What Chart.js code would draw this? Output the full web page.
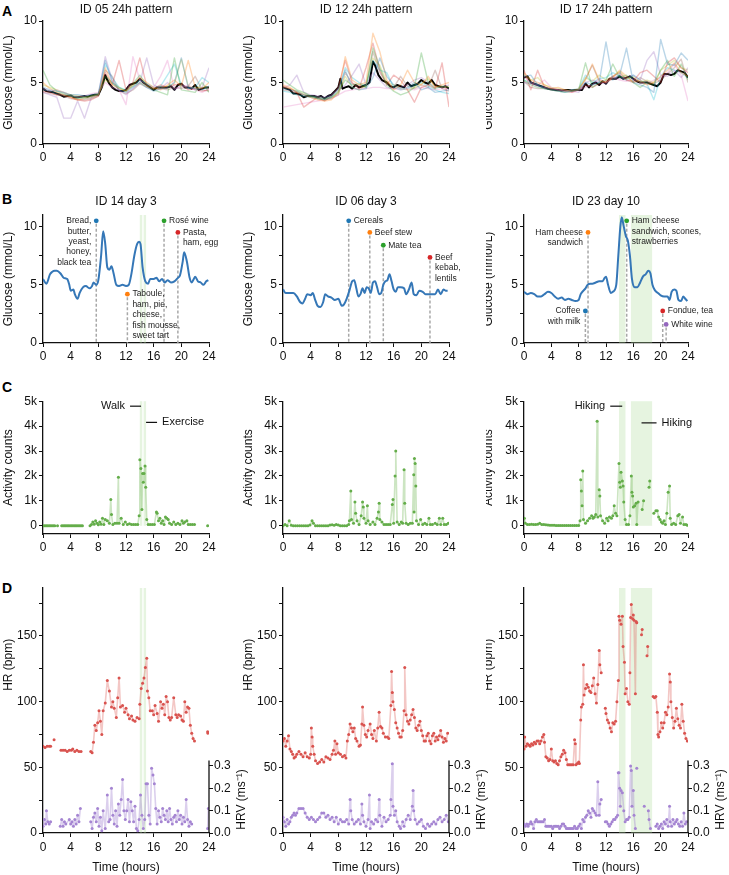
<!DOCTYPE html>
<html>
<head>
<meta charset="utf-8">
<script src="https://cdn.jsdelivr.net/npm/chart.js@4.4.1/dist/chart.umd.min.js"></script>
<style>
  body { margin: 0; background: #fff; }
  #fig { position: relative; width: 729px; height: 875px; overflow: hidden; background: #fff;
         font-family: "Liberation Sans", Arial, Helvetica, sans-serif; }
  #fig canvas { position: absolute; }
  .letter { position: absolute; font-weight: bold; font-size: 14px; color: #000; }
</style>
</head>
<body>
<div id="fig">
  <div class="letter" style="left:2px;top:3px">A</div>
  <div class="letter" style="left:2px;top:191px">B</div>
  <div class="letter" style="left:2px;top:379px">C</div>
  <div class="letter" style="left:2px;top:580px">D</div>
</div>
<script>
// ---------- data ----------
const hourTicks = [0, 4, 8, 12, 16, 20, 24];
const glucoseTicks = [0, 2.5, 5, 7.5, 10];
const activityTicks = [0, 1000, 2000, 3000, 4000, 5000];
const hrTicks = [0, 25, 50, 75, 100, 125, 150, 175];
const hrvTicks = [0, 0.1, 0.2, 0.3];
const dayHours = [0,1,2,3,4,5,6,7,8,9,10,11,12,13,14,15,16,17,18,19,20,21,22,23,24];

const panelTitlesA = ['ID 05 24h pattern', 'ID 12 24h pattern', 'ID 17 24h pattern'];
const panelTitlesB = ['ID 14 day 3', 'ID 06 day 3', 'ID 23 day 10'];

// A: single days (hourly) and the mean profile
const daysID05 = [
  [4.6,4.4,4.3,4.2,4.0,4.0,3.9,4.0,4.1,6.8,5.0,4.4,4.2,4.6,5.0,4.6,4.3,4.5,4.6,5.0,7.0,4.6,4.5,4.4,4.7],
  [5.0,4.5,4.2,4.0,3.8,3.6,3.7,3.8,4.0,6.2,4.8,4.5,4.3,4.8,5.4,5.0,4.6,4.4,4.8,5.2,4.7,6.8,4.6,4.5,5.0],
  [6.0,4.8,4.3,4.1,3.9,3.7,3.8,3.9,4.0,5.5,5.0,4.6,4.3,4.9,5.6,4.8,4.4,4.2,4.0,7.0,4.4,4.3,4.2,5.0,4.2],
  [4.3,4.2,4.0,4.0,3.8,3.6,3.5,3.6,3.9,5.8,4.8,6.8,4.4,5.0,7.0,4.7,4.5,4.8,4.6,4.8,4.9,4.4,4.5,4.3,4.4],
  [4.2,4.0,3.8,2.1,2.1,3.5,2.1,3.8,4.0,7.1,5.2,4.4,4.0,4.5,5.0,7.0,4.8,4.5,5.0,4.4,4.8,4.6,4.4,4.6,6.2],
  [4.5,4.3,4.4,4.2,3.9,3.8,3.9,4.1,4.2,5.0,4.6,4.4,3.2,7.1,5.2,4.8,4.6,5.5,6.8,4.5,4.6,4.8,4.4,4.2,4.5],
  [4.4,4.3,4.1,4.0,3.9,3.8,3.7,3.8,4.0,6.5,5.4,4.6,4.4,4.7,5.2,4.9,4.6,4.7,5.6,6.5,4.8,4.5,4.6,5.4,5.0],
  [4.8,4.6,4.4,4.2,4.0,3.9,3.8,3.9,4.1,5.2,4.9,4.5,4.3,4.7,5.0,4.7,4.5,4.6,4.7,4.9,6.9,4.7,4.5,4.6,4.6],
  [4.2,4.1,4.0,3.9,3.7,3.6,3.6,3.7,3.9,6.0,5.5,4.3,4.1,4.4,4.9,4.6,4.4,4.5,4.4,4.6,4.5,4.7,5.5,4.4,4.3]
];
const meanID05 = [[0,4.5],[0.5,4.3],[1,4.25],[1.5,4.2],[2,4.1],[2.5,4.0],[3,3.85],[3.5,3.9],[4,3.95],[4.5,3.8],[5,3.8],[5.5,3.85],[6,3.9],[6.5,3.85],[7,3.95],[7.5,4.0],[8,4.0],[8.5,4.6],[9,5.6],[9.3,5.2],[9.6,4.9],[10,4.6],[10.5,4.4],[11,4.3],[11.5,4.3],[12,4.4],[12.5,4.8],[13,4.9],[13.5,5.0],[14,5.3],[14.5,5.0],[15,4.8],[15.5,4.6],[16,4.4],[16.5,4.6],[17,4.6],[17.5,4.6],[18,4.6],[18.5,4.7],[19,4.4],[19.5,4.8],[20,4.9],[20.5,4.6],[21,4.6],[21.5,4.5],[22,4.8],[22.5,4.4],[23,4.5],[23.5,4.6],[24,4.6]];

const daysID12 = [
  [4.5,4.4,4.3,4.0,3.9,3.8,3.7,3.9,4.5,6.0,4.6,4.4,4.5,5.4,7.0,5.5,4.8,4.5,4.6,5.0,4.4,4.6,4.2,4.3,4.4],
  [4.8,4.6,4.2,4.0,3.8,3.6,3.5,3.6,4.2,7.1,5.2,4.8,5.0,9.0,7.5,5.2,4.4,4.8,6.0,5.0,4.8,5.5,4.6,4.8,5.0],
  [5.2,4.8,4.4,4.2,3.9,3.7,3.6,3.8,4.3,5.2,4.8,4.9,4.6,7.8,6.2,4.8,4.3,4.0,4.2,4.6,7.4,5.0,4.5,4.7,4.6],
  [4.7,4.5,4.2,3.0,3.4,3.8,3.5,3.9,4.6,6.8,5.0,4.5,6.2,8.2,6.0,4.8,5.6,5.2,4.4,3.4,4.6,4.8,4.5,6.6,3.0],
  [4.5,4.8,5.6,4.2,4.0,3.9,3.8,4.0,4.4,4.8,5.6,6.5,4.8,5.8,5.2,4.6,4.5,4.6,4.8,5.2,5.4,5.0,4.6,4.6,4.8],
  [3.0,3.1,3.2,3.3,3.4,3.5,3.6,3.7,4.0,4.3,4.4,4.5,4.5,4.6,4.6,4.5,4.5,4.4,4.5,4.4,4.6,4.5,4.4,4.5,4.5],
  [4.3,4.2,4.0,3.9,3.8,3.7,3.6,3.8,4.2,6.2,5.4,5.0,4.7,6.8,6.0,5.8,4.6,4.4,4.5,4.8,5.0,4.7,4.4,4.2,4.1],
  [4.6,4.5,4.3,4.1,3.9,3.8,3.7,3.8,4.1,5.5,4.6,4.4,4.8,7.0,6.4,5.0,4.8,4.5,4.4,4.6,4.9,5.3,4.7,4.6,4.7],
  [4.4,4.3,4.2,4.0,3.8,3.7,3.6,3.7,4.0,5.8,4.9,4.7,4.6,7.5,5.8,4.9,4.6,5.5,4.7,4.5,4.8,4.6,6.0,4.5,4.3]
];
const meanID12 = [[0,4.6],[0.5,4.5],[1,4.4],[1.5,4.1],[2,4.1],[2.5,4.0],[3,3.8],[3.5,3.9],[4,3.9],[4.5,3.9],[5,3.8],[5.5,3.9],[6,3.7],[6.5,3.9],[7,4.0],[7.5,4.3],[8,4.6],[8.3,5.3],[8.6,4.5],[9,4.6],[9.5,4.7],[10,4.5],[10.5,4.8],[11,4.6],[11.5,4.7],[12,4.8],[12.5,5.0],[13,6.7],[13.3,6.4],[13.8,5.6],[14.3,5.2],[15,5.0],[15.5,4.7],[16,4.6],[16.5,4.8],[17,4.7],[17.5,4.6],[18,5.0],[18.5,4.7],[19,4.8],[19.5,4.9],[20,5.2],[20.5,5.0],[21,4.9],[21.5,5.2],[22,4.8],[22.5,4.7],[23,4.6],[23.5,4.7],[24,4.5]];

const daysID17 = [
  [5.5,5.6,4.8,4.5,4.4,4.3,4.2,4.3,4.4,5.0,4.8,5.0,8.3,5.2,5.6,7.8,5.0,4.8,4.6,4.2,8.5,6.5,6.4,7.4,6.8],
  [5.8,5.2,5.0,4.8,4.5,4.6,4.4,4.3,4.5,5.2,6.5,5.2,5.0,5.4,6.0,5.5,5.0,5.2,4.8,5.0,5.5,6.0,6.6,5.8,5.5],
  [5.2,4.8,4.6,4.5,4.4,4.3,4.2,4.3,4.4,6.6,4.6,5.0,5.2,6.5,5.4,5.6,5.0,4.6,5.0,4.8,6.0,6.8,5.5,6.5,5.2],
  [6.0,4.4,6.0,4.6,4.5,4.4,4.3,4.2,4.4,4.8,4.6,4.9,5.1,5.5,5.8,5.2,5.1,5.8,6.0,5.5,5.0,6.6,7.0,6.2,5.8],
  [5.0,4.9,4.7,4.6,4.5,4.4,4.3,4.3,4.2,5.0,5.2,5.0,4.9,5.5,5.3,5.4,5.6,5.2,6.8,7.5,5.6,5.5,6.0,5.4,6.2],
  [5.5,5.0,4.8,5.2,4.6,4.4,4.4,4.2,4.4,4.6,4.8,5.3,5.0,5.4,5.2,5.1,5.3,5.0,4.9,5.2,5.4,5.8,6.5,5.6,3.5],
  [5.2,5.0,4.8,4.6,4.5,4.4,4.3,4.4,4.5,5.6,5.0,5.3,5.4,5.8,5.5,5.2,5.6,5.2,4.9,3.6,5.5,6.2,6.0,5.8,5.4],
  [5.6,5.2,5.4,4.8,4.6,4.5,4.4,4.3,4.4,5.4,5.1,5.6,5.2,5.5,5.9,5.3,5.5,5.0,5.2,5.0,6.0,6.4,6.8,6.2,6.0],
  [5.1,4.6,4.5,4.5,4.4,4.3,4.3,4.4,4.4,5.3,6.4,5.1,5.0,5.3,5.6,5.2,5.0,5.4,5.1,4.9,5.2,5.7,6.2,6.9,5.0]
];
const meanID17 = [[0,5.4],[0.5,5.5],[1,5.0],[1.5,4.9],[2,4.8],[2.5,4.7],[3,4.6],[3.5,4.5],[4,4.45],[4.5,4.4],[5,4.4],[5.5,4.35],[6,4.4],[6.5,4.4],[7,4.35],[7.5,4.4],[8,4.4],[8.5,4.4],[9,4.9],[9.5,4.6],[10,4.9],[10.5,5.0],[11,4.8],[11.5,5.1],[12,4.9],[12.5,5.3],[13,5.3],[13.5,5.3],[14,5.5],[14.5,5.3],[15,5.4],[15.5,5.5],[16,5.3],[16.5,5.1],[17,5.0],[17.5,5.0],[18,5.0],[18.5,4.9],[19,4.8],[19.5,4.7],[20,5.0],[20.5,5.7],[21,5.7],[21.5,5.6],[22,5.7],[22.5,6.0],[23,5.9],[23.5,5.8],[24,5.4]];

// B: glucose of one day
const glucoseID14 = [[0,5.5],[0.5,5.1],[1.0,5.9],[1.3,6.1],[1.7,6.2],[2.0,6.2],[2.5,6.0],[3.0,5.6],[3.5,5.5],[3.8,5.0],[4.0,4.5],[4.4,4.6],[4.6,4.2],[5.0,3.8],[5.3,4.3],[5.8,4.8],[6.2,4.9],[6.7,4.7],[7.1,4.9],[7.3,5.2],[7.7,5.0],[8.0,5.4],[8.4,7.5],[8.7,9.6],[9.0,8.5],[9.3,6.5],[9.6,6.3],[9.9,6.6],[10.2,6.0],[10.6,5.0],[11.0,4.9],[11.5,5.0],[12.0,4.9],[12.4,5.0],[12.8,6.0],[13.2,7.5],[13.6,8.5],[13.9,8.7],[14.1,8.5],[14.4,6.5],[14.8,5.3],[15.2,5.1],[15.5,5.5],[16.0,5.5],[16.4,5.6],[16.8,5.3],[17.2,5.5],[17.6,5.2],[18.0,5.4],[18.5,5.2],[19.0,5.3],[19.5,5.6],[19.8,5.8],[20.2,7.0],[20.4,7.8],[20.8,7.0],[21.2,5.6],[21.5,5.2],[21.8,5.5],[22.0,5.7],[22.4,5.3],[22.8,5.2],[23.2,5.0],[23.6,5.3],[23.9,5.4]];
const glucoseID06 = [[0,4.6],[0.4,4.3],[1,4.3],[1.5,4.3],[2,4.0],[2.5,3.5],[2.8,3.4],[3.2,3.8],[3.5,4.2],[4,4.1],[4.3,4.3],[4.6,3.8],[5,3.2],[5.4,3.1],[5.8,3.5],[6.1,4.2],[6.5,4.0],[7,3.9],[7.5,3.7],[8,3.8],[8.5,3.2],[8.8,3.3],[9.2,3.8],[9.6,4.5],[10,5.3],[10.3,5.4],[10.6,4.7],[10.9,4.0],[11.2,4.2],[11.5,4.7],[11.8,4.3],[12.1,4.8],[12.4,4.7],[12.7,4.3],[13,5.2],[13.3,5.3],[13.6,4.8],[13.9,4.2],[14.2,4.3],[14.5,5.0],[14.8,5.3],[15.1,5.4],[15.4,5.9],[15.7,5.3],[16,4.6],[16.3,4.4],[16.6,4.8],[17,4.8],[17.5,4.7],[17.8,4.2],[18.2,4.6],[18.6,5.2],[18.9,4.2],[19.3,4.1],[19.7,4.5],[20.2,4.4],[20.6,4.2],[21,4.2],[21.5,4.2],[22,4.2],[22.4,4.6],[22.8,4.2],[23.2,4.6],[23.5,4.5],[23.8,4.5]];
const glucoseID23 = [[0,4.4],[0.5,4.2],[1,4.3],[1.5,4.2],[2,4.0],[2.5,4.0],[3,4.2],[3.5,4.4],[4,4.3],[4.5,4.0],[5,3.8],[5.5,3.9],[6,3.7],[6.5,3.8],[7,3.7],[7.5,3.6],[8,3.7],[8.3,4.2],[8.7,4.5],[9.0,4.7],[9.3,5.0],[9.7,5.1],[10,5.1],[10.5,5.2],[11,5.3],[11.5,5.3],[11.8,5.6],[12.0,5.7],[12.3,5.0],[12.7,4.3],[13.0,4.4],[13.5,5.0],[13.8,7.5],[14.1,10.0],[14.3,10.8],[14.6,10.0],[14.9,9.2],[15.2,8.8],[15.5,7.5],[15.8,5.5],[16.2,4.8],[16.6,4.8],[17,5.2],[17.4,5.7],[17.8,5.9],[18.2,6.2],[18.5,6.0],[18.8,5.0],[19.2,4.5],[19.6,4.3],[20,4.1],[20.5,4.0],[21,4.0],[21.3,3.7],[21.6,4.4],[22,4.6],[22.3,4.5],[22.6,3.7],[23.0,3.6],[23.3,4.0],[23.6,3.8],[23.9,3.6]];

// B: meals (time in hours, marker level in mmol/L, label lines)
const mealTimesID14 = [7.7, 12.2, 17.5, 19.5];
const mealLevelsID14 = [10.5, 4.2, 10.5, 9.5];
const mealNamesID14 = [['Bread,','butter,','yeast,','honey,','black tea'], ['Taboule,','ham, pie,','cheese,','fish mousse,','sweet tart'], ['Rosé wine'], ['Pasta,','ham, egg']];
const mealTimesID06 = [9.5, 12.55, 14.5, 21.25];
const mealLevelsID06 = [10.5, 9.5, 8.4, 7.35];
const mealNamesID06 = [['Cereals'], ['Beef stew'], ['Mate tea'], ['Beef','kebab,','lentils']];
const mealTimesID23 = [8.98, 9.37, 15.03, 20.3, 20.8];
const mealLevelsID23 = [2.75, 9.5, 10.5, 2.75, 1.6];
const mealNamesID23 = [['Coffee','with milk'], ['Ham cheese','sandwich'], ['Ham cheese','sandwich, scones,','strawberries'], ['Fondue, tea'], ['White wine']];

// activity periods (start, end in hours)
const periodsID14 = [[14.0, 14.35], [14.55, 14.9]];
const periodsID06 = [];
const periodsID23 = [[13.9, 14.85], [15.65, 18.75]];
const periodNamesID14 = ['Walk', 'Exercise'];
const periodNamesID23 = ['Hiking', 'Hiking'];

// C: activity counts [hour, counts]
const activityID14 = [[0.1,0],[0.3,0],[0.5,0],[0.7,0],[0.9,0],[1.1,0],[1.3,0],[1.5,0],[1.7,0],[1.9,null],[2.1,0],[2.4,null],[2.7,0],[2.9,0],[3.1,0],[3.3,0],[3.5,0],[3.7,0],[3.9,0],[4.1,0],[4.3,0],[4.5,0],[4.7,0],[4.9,0],[5.1,0],[5.3,0],[5.5,0],[5.7,0],[6.2,null],[6.8,0],[7.0,50],[7.2,150],[7.4,60],[7.6,200],[7.8,100],[8.0,40],[8.2,150],[8.4,60],[8.6,300],[8.8,50],[9.0,250],[9.3,200],[9.6,100],[9.8,1050],[9.9,450],[10.1,50],[10.4,100],[10.7,100],[10.9,1950],[11.0,100],[11.3,300],[11.6,50],[11.9,150],[12.2,50],[12.5,80],[12.8,50],[13.1,50],[13.4,50],[13.7,50],[13.9,400],[14.0,2650],[14.15,2300],[14.3,650],[14.4,2100],[14.5,1750],[14.6,2100],[14.75,2400],[14.85,1550],[15.0,250],[15.2,50],[15.5,50],[15.8,50],[16.1,50],[16.4,550],[16.5,500],[16.7,200],[16.9,300],[17.1,100],[17.3,200],[17.5,50],[17.7,350],[17.9,300],[18.1,250],[18.3,100],[18.6,50],[18.9,150],[19.2,50],[19.5,100],[19.8,50],[20.1,200],[20.3,100],[20.5,150],[20.8,200],[21.0,50],[21.3,50],[21.6,50],[21.9,50],[22.6,null],[23.8,0]];
const activityID06 = [[0,0],[0.3,50],[0.6,0],[0.9,200],[1.2,20],[1.5,0],[1.8,0],[2.1,0],[2.4,0],[2.7,0],[3.0,0],[3.3,0],[3.6,0],[3.9,30],[4.2,200],[4.4,100],[4.7,0],[5.0,0],[5.3,0],[5.6,0],[5.9,0],[6.2,0],[6.5,0],[6.8,30],[7.1,40],[7.4,20],[7.7,50],[8.0,30],[8.3,0],[8.6,0],[8.9,0],[9.2,0],[9.5,50],[9.6,200],[9.8,1400],[9.9,250],[10.2,100],[10.4,950],[10.5,500],[10.7,200],[11.0,50],[11.3,400],[11.5,950],[11.6,750],[11.7,300],[12.0,100],[12.2,800],[12.3,200],[12.6,50],[13.0,150],[13.3,50],[13.6,300],[13.8,550],[13.9,900],[14.0,250],[14.3,150],[14.6,50],[14.9,50],[15.2,50],[15.5,50],[15.8,850],[15.9,1050],[16.0,100],[16.2,2000],[16.3,3000],[16.5,150],[16.8,50],[17.1,150],[17.3,100],[17.5,2250],[17.6,900],[17.8,100],[18.1,50],[18.4,100],[18.7,100],[18.9,2050],[18.95,550],[19.0,2700],[19.1,2500],[19.2,1600],[19.3,200],[19.6,50],[19.9,250],[20.2,50],[20.5,100],[20.8,50],[21.1,300],[21.3,50],[21.6,50],[22.0,100],[22.3,50],[22.6,300],[22.8,50],[23.1,300],[23.3,50],[23.6,50],[23.9,100]];
const activityID23 = [[0.05,300],[0.2,100],[0.5,50],[0.8,50],[1.1,60],[1.4,50],[1.7,50],[2.0,60],[2.3,100],[2.6,50],[2.9,50],[3.2,40],[3.5,30],[3.8,20],[4.1,20],[4.4,20],[4.7,10],[5.0,10],[5.3,10],[5.6,10],[5.9,10],[6.2,10],[6.5,10],[6.8,10],[7.1,10],[7.4,10],[7.7,10],[8.0,10],[8.2,200],[8.3,1850],[8.4,1400],[8.5,800],[8.6,2200],[8.7,250],[9.0,100],[9.3,200],[9.6,300],[9.9,400],[10.1,300],[10.3,350],[10.5,450],[10.7,4200],[10.8,350],[11.0,1450],[11.1,1200],[11.2,400],[11.5,200],[11.8,100],[12.1,300],[12.3,200],[12.5,350],[12.8,300],[13.0,400],[13.2,800],[13.4,500],[13.6,400],[13.9,2500],[14.0,1750],[14.1,1550],[14.2,2150],[14.4,1800],[14.5,1600],[14.6,950],[14.8,250],[15.0,50],[15.3,50],[15.5,400],[15.7,2000],[15.8,1350],[15.9,1200],[16.0,750],[16.2,800],[16.4,900],[16.5,50],[16.7,950],[17.0,null],[17.3,650],[17.5,1000],[17.9,null],[18.3,1550],[18.4,1800],[18.7,null],[19.0,500],[19.3,600],[19.5,600],[19.7,350],[19.9,250],[20.1,150],[20.3,100],[20.5,200],[20.7,50],[20.9,500],[21.1,1350],[21.3,1600],[21.4,300],[21.6,50],[21.9,100],[22.2,50],[22.5,400],[22.7,450],[22.9,100],[23.2,350],[23.4,50],[23.7,50],[23.9,20]];

// D: heart rate [hour, bpm] and HRV [hour, ms^-1]
const hrID14 = [[0.0,66],[0.3,65],[0.6,66],[0.9,66],[1.1,66],[1.35,null],[1.6,71],[2.1,null],[2.6,63],[2.9,63],[3.2,63],[3.5,62],[3.8,63],[4.1,63],[4.3,64],[4.6,62],[4.9,63],[5.2,62],[5.5,62],[6.2,null],[6.9,62],[7.1,61],[7.3,69],[7.5,82],[7.7,78],[7.9,84],[8.1,93],[8.3,85],[8.5,75],[8.7,93],[9.0,99],[9.3,116],[9.6,108],[9.9,96],[10.1,100],[10.3,95],[10.6,88],[10.8,103],[11.0,118],[11.2,96],[11.5,97],[11.8,92],[12.0,95],[12.3,90],[12.5,87],[12.8,89],[13.0,86],[13.3,85],[13.6,88],[13.9,87],[14.0,98],[14.2,110],[14.4,114],[14.6,118],[14.8,126],[15.0,133],[15.1,108],[15.3,103],[15.5,93],[15.8,93],[16.0,90],[16.2,97],[16.5,91],[16.7,85],[17.0,100],[17.2,95],[17.4,98],[17.6,90],[17.8,104],[18.0,100],[18.2,88],[18.4,86],[18.6,88],[18.9,103],[19.2,90],[19.4,88],[19.6,90],[19.9,89],[20.1,86],[20.3,85],[20.5,100],[20.7,92],[20.9,96],[21.1,95],[21.3,82],[21.5,76],[21.7,72],[21.9,70],[22.8,null],[23.8,77],[23.85,76]];
const hrvID14 = [[0.0,0.03],[0.2,0.06],[0.4,0.04],[0.5,0.1],[0.7,0.05],[0.9,0.04],[1.1,0.05],[1.8,null],[2.5,0.03],[2.7,0.06],[2.9,0.03],[3.1,0.05],[3.3,0.04],[3.8,0.06],[4.0,0.04],[4.2,0.05],[4.4,0.03],[4.6,0.06],[4.8,0.04],[5.0,0.08],[5.2,0.05],[5.4,0.11],[6.2,null],[6.9,0.05],[7.1,0.02],[7.3,0.07],[7.5,0.09],[7.7,0.05],[7.9,0.11],[8.1,0.03],[8.3,0.07],[8.5,0.01],[8.7,0.1],[9.0,0.02],[9.3,0.17],[9.5,0.05],[9.7,0.06],[9.9,0.2],[10.1,0.08],[10.3,0.04],[10.5,0.1],[10.7,0.03],[10.9,0.13],[11.1,0.08],[11.3,0.15],[11.5,0.24],[11.7,0.1],[11.9,0.06],[12.1,0.1],[12.3,0.15],[12.5,0.05],[12.7,0.14],[12.9,0.1],[13.1,0.05],[13.3,0.12],[13.5,0.02],[13.7,0.01],[13.9,0.06],[14.1,0.17],[14.3,0.08],[14.5,0.02],[14.7,0.06],[14.9,0.22],[15.1,0.22],[15.3,0.08],[15.5,0.04],[15.7,0.29],[15.9,0.26],[16.1,0.22],[16.3,0.11],[16.5,0.04],[16.7,0.1],[16.9,0.07],[17.1,0.05],[17.3,0.11],[17.5,0.08],[17.7,0.06],[17.9,0.1],[18.1,0.05],[18.3,0.11],[18.5,0.06],[18.7,0.04],[18.9,0.07],[19.1,0.08],[19.3,0.05],[19.5,0.1],[19.7,0.06],[19.9,0.08],[20.1,0.04],[20.3,0.07],[20.5,0.05],[20.7,0.15],[20.9,0.06],[21.1,0.03],[21.3,0.05],[21.5,0.04],[22.6,null],[23.8,0.02],[23.9,0.11]];
const hrID06 = [[0.0,70],[0.2,72],[0.4,66],[0.6,70],[0.8,74],[1.0,64],[1.2,62],[1.4,60],[1.6,57],[1.8,58],[2.0,60],[2.3,62],[2.6,60],[2.9,58],[3.2,61],[3.5,58],[3.8,57],[4.0,60],[4.1,80],[4.2,73],[4.3,66],[4.5,60],[4.7,55],[5.0,53],[5.3,54],[5.6,56],[5.9,54],[6.2,58],[6.5,57],[6.8,56],[7.1,60],[7.3,63],[7.5,70],[7.6,60],[7.8,68],[8.0,61],[8.3,60],[8.6,58],[8.9,59],[9.1,57],[9.3,70],[9.5,75],[9.7,83],[9.9,80],[10.1,77],[10.3,80],[10.5,72],[10.7,70],[11.0,66],[11.2,67],[11.4,83],[11.5,96],[11.7,82],[11.9,75],[12.1,73],[12.3,78],[12.6,83],[12.8,75],[13.0,72],[13.2,78],[13.5,70],[13.7,80],[13.9,92],[14.1,81],[14.3,80],[14.5,76],[14.8,73],[15.1,73],[15.3,72],[15.6,97],[15.7,123],[15.8,107],[15.9,100],[16.1,94],[16.3,84],[16.5,80],[16.7,76],[16.9,73],[17.1,73],[17.3,78],[17.5,93],[17.6,126],[17.8,90],[18.0,85],[18.2,83],[18.4,86],[18.6,90],[18.8,94],[19.0,88],[19.2,80],[19.4,78],[19.6,82],[19.8,85],[20.0,78],[20.2,74],[20.4,70],[20.6,70],[20.8,74],[21.0,76],[21.2,70],[21.4,68],[21.6,74],[21.8,76],[22.0,70],[22.2,73],[22.4,71],[22.6,74],[22.8,78],[23.0,73],[23.2,69],[23.4,72],[23.6,70],[23.8,76]];
const hrvID06 = [[0.0,0.07],[0.2,0.05],[0.4,0.03],[0.6,0.06],[0.8,0.04],[1.0,0.05],[1.2,0.07],[1.4,0.08],[1.6,0.09],[1.8,0.08],[2.0,0.09],[2.3,0.11],[2.6,0.11],[2.9,0.11],[3.2,0.09],[3.5,0.07],[3.8,0.06],[4.1,0.07],[4.4,0.06],[4.7,0.05],[5.0,0.06],[5.3,0.07],[5.6,0.09],[5.9,0.09],[6.2,0.07],[6.5,0.08],[6.8,0.06],[7.1,0.07],[7.4,0.05],[7.7,0.07],[8.0,0.04],[8.3,0.06],[8.6,0.05],[8.9,0.05],[9.2,0.06],[9.5,0.04],[9.7,0.15],[9.8,0.1],[10.0,0.06],[10.3,0.04],[10.6,0.05],[10.9,0.06],[11.2,0.04],[11.4,0.13],[11.5,0.08],[11.7,0.05],[12.0,0.03],[12.3,0.06],[12.5,0.17],[12.6,0.02],[12.8,0.05],[13.1,0.04],[13.4,0.06],[13.7,0.05],[13.9,0.15],[14.0,0.08],[14.3,0.03],[14.6,0.07],[14.9,0.05],[15.2,0.06],[15.5,0.08],[15.6,0.15],[15.8,0.31],[15.9,0.12],[16.1,0.08],[16.3,0.1],[16.5,0.05],[16.8,0.03],[17.0,0.02],[17.3,0.05],[17.5,0.03],[17.8,0.06],[18.1,0.08],[18.4,0.06],[18.7,0.12],[18.8,0.19],[18.9,0.1],[19.1,0.06],[19.4,0.04],[19.7,0.05],[20.0,0.06],[20.3,0.03],[20.6,0.02],[20.9,0.04],[21.2,0.03],[21.5,0.04],[21.8,0.05],[22.1,0.04],[22.4,0.06],[22.7,0.07],[23.0,0.05],[23.3,0.06],[23.6,0.08],[23.9,0.05]];
const hrID23 = [[0.0,64],[0.1,73],[0.3,66],[0.5,68],[0.7,67],[0.9,66],[1.1,68],[1.3,67],[1.5,69],[1.7,68],[1.9,70],[2.1,70],[2.3,68],[2.5,70],[2.7,73],[2.9,75],[3.0,69],[3.2,58],[3.4,57],[3.6,55],[3.8,56],[4.0,64],[4.2,55],[4.4,54],[4.6,55],[4.8,53],[5.0,52],[5.2,55],[5.4,58],[5.6,60],[5.8,63],[6.0,61],[6.2,56],[6.4,52],[6.6,52],[6.8,52],[7.0,52],[7.2,52],[7.4,71],[7.5,68],[7.6,52],[7.8,53],[8.0,54],[8.1,53],[8.3,86],[8.4,96],[8.6,98],[8.7,128],[8.8,105],[9.0,110],[9.2,113],[9.4,111],[9.6,108],[9.8,107],[10.0,112],[10.2,118],[10.4,106],[10.6,99],[10.8,113],[11.0,139],[11.1,128],[11.3,122],[11.6,null],[11.9,95],[12.0,91],[12.2,86],[12.4,84],[12.6,80],[12.8,77],[13.0,84],[13.2,83],[13.4,85],[13.6,100],[13.8,116],[13.9,165],[14.0,162],[14.2,159],[14.4,165],[14.5,142],[14.7,130],[14.8,106],[15.0,110],[15.2,100],[15.4,98],[15.5,122],[15.6,164],[15.7,174],[15.9,163],[16.0,166],[16.1,162],[16.3,106],[16.4,161],[16.5,160],[16.9,null],[17.2,151],[17.3,155],[17.7,null],[18.0,135],[18.1,142],[18.5,null],[18.9,104],[19.1,103],[19.3,104],[19.5,92],[19.6,75],[19.7,73],[19.9,77],[20.1,84],[20.3,80],[20.5,84],[20.7,92],[20.9,90],[21.1,96],[21.3,121],[21.4,115],[21.5,100],[21.7,88],[21.9,80],[22.1,85],[22.3,95],[22.5,87],[22.7,82],[22.9,80],[23.1,98],[23.3,85],[23.5,76],[23.7,72],[23.9,70]];
const hrvID23 = [[0.0,0.04],[0.2,0.03],[0.4,0.04],[0.6,0.03],[0.8,0.04],[1.0,0.05],[1.2,0.04],[1.4,0.02],[1.6,0.05],[1.8,0.06],[2.0,0.05],[2.2,0.05],[2.4,0.05],[2.6,0.05],[2.8,0.05],[3.0,0.06],[3.2,0.03],[3.4,0.03],[3.6,0.03],[3.8,0.03],[4.0,0.03],[4.2,0.02],[4.4,0.03],[4.6,0.03],[4.8,0.03],[5.0,0.03],[5.2,0.02],[5.4,0.03],[5.6,0.04],[5.8,0.04],[6.0,0.03],[6.2,0.02],[6.4,0.02],[6.6,0.02],[6.8,0.02],[7.0,0.02],[7.2,0.02],[7.4,0.03],[7.6,0.02],[7.8,0.02],[8.0,0.03],[8.2,0.04],[8.4,0.02],[8.6,0.06],[8.8,0.05],[9.0,0.07],[9.2,0.08],[9.4,0.1],[9.6,0.09],[9.8,0.07],[10.0,0.11],[10.2,0.1],[10.4,0.09],[10.6,0.08],[10.8,0.23],[11.0,0.08],[11.1,0.13],[11.3,0.15],[11.6,null],[11.9,0.05],[12.1,0.05],[12.3,0.04],[12.5,0.03],[12.7,0.04],[12.9,0.05],[13.1,0.06],[13.3,0.06],[13.5,0.07],[13.7,0.08],[13.8,0.27],[13.9,0.27],[14.0,0.2],[14.1,0.12],[14.2,0.19],[14.4,0.18],[14.6,0.1],[14.8,0.05],[15.0,0.06],[15.2,0.06],[15.4,0.07],[15.6,0.3],[15.7,0.28],[15.8,0.12],[16.0,0.19],[16.1,0.08],[16.3,0.02],[16.4,null],[16.5,0.29],[17.0,null],[17.6,0.12],[17.9,null],[18.2,0.1],[18.3,0.06],[18.5,0.02],[18.9,null],[19.3,0.03],[19.5,0.04],[19.7,0.02],[19.9,0.03],[20.1,0.04],[20.3,0.02],[20.5,0.05],[20.7,0.04],[20.9,0.06],[21.1,0.03],[21.3,0.12],[21.4,0.05],[21.6,0.03],[21.8,0.06],[22.0,0.04],[22.2,0.05],[22.4,0.06],[22.6,0.04],[22.8,0.03],[23.0,0.05],[23.2,0.03],[23.4,0.09],[23.6,0.04],[23.8,0.05]];

// ---------- layout & style ----------
const FONT = '"Liberation Sans", Arial, Helvetica, sans-serif';
const INK = '#111';
Chart.defaults.font.family = FONT;
Chart.defaults.font.size = 12;
Chart.defaults.color = INK;

const COLS = [
  { left: 0,   w: 262, yw: 43, pw: 166, tx: 9 },
  { left: 243, w: 262, yw: 40, pw: 166, tx: 6 },
  { left: 486, w: 243, yw: 38, pw: 164, tx: 3 }
];
const ROWS = {
  A: { top: 0,   h: 164, padTop: 0,  xh: 20, tpTop: 2,   tpBot: 4.6 },
  B: { top: 190, h: 173, padTop: 0,  xh: 20, tpTop: 4.8, tpBot: 5.8 },
  C: { top: 392, h: 162, padTop: 8,  xh: 20 },
  D: { top: 578, h: 297, padTop: 10, xh: 42 }
};
const faintColors = ['rgba(31,119,180,0.3)','rgba(255,127,14,0.3)','rgba(44,160,44,0.3)','rgba(214,39,40,0.3)',
  'rgba(148,103,189,0.3)','rgba(227,119,194,0.3)','rgba(23,190,207,0.3)','rgba(188,189,34,0.3)','rgba(140,86,75,0.3)'];
const mealColors = {
  ID14: ['#1f77b4','#ff7f0e','#2ca02c','#d62728'],
  ID06: ['#1f77b4','#ff7f0e','#2ca02c','#d62728'],
  ID23: ['#1f77b4','#ff7f0e','#2ca02c','#d62728','#9467bd']
};
const mealSides = {
  ID14: ['left','right','right','right'],
  ID06: ['right','right','right','right'],
  ID23: ['left','left','right','right','right']
};
const BAND = 'rgba(178,222,160,0.32)';

function makeCanvas(col, row) {
  const c = document.createElement('canvas');
  c.width = col.w; c.height = row.h;
  c.style.left = col.left + 'px'; c.style.top = row.top + 'px';
  c.style.width = col.w + 'px'; c.style.height = row.h + 'px';
  document.getElementById('fig').appendChild(c);
  return c;
}

function xScale(row, title) {
  return {
    type: 'linear', min: 0, max: 24,
    afterBuildTicks: s => { s.ticks = hourTicks.map(v => ({ value: v })); },
    afterFit: s => { s.height = row.xh; },
    grid: { drawOnChartArea: false, drawTicks: true, tickLength: 4, color: INK, lineWidth: 1 },
    border: { display: true, color: INK, width: 1.3 },
    ticks: { padding: row === ROWS.D ? 3 : 2, maxRotation: 0, autoSkip: false, color: INK, font: { size: 12 } },
    title: title ? { display: true, text: title, color: INK, font: { size: 12 }, padding: { top: 0, bottom: 0 } } : { display: false }
  };
}

function yScale(col, min, max, tickList, fmt, title) {
  return {
    type: 'linear', position: 'left', min: min, max: max,
    afterBuildTicks: s => { s.ticks = tickList.map(v => ({ value: v })); },
    afterFit: s => { s.width = col.yw; },
    grid: { drawOnChartArea: false, drawTicks: true, tickLength: 4, color: INK, lineWidth: 1 },
    border: { display: true, color: INK, width: 1.3 },
    ticks: { padding: 2, autoSkip: false, color: INK, font: { size: 12 }, callback: fmt },
    title: title ? { display: true, text: title, color: INK, font: { size: 12 }, padding: { top: col.tx - 7.2, bottom: 0 } } : { display: false }
  };
}

const fmtFive = v => (v % 5 === 0 ? String(v) : '');
const fmtK = v => (v === 0 ? '0' : (v / 1000) + 'k');
const fmtFifty = v => (v % 50 === 0 ? String(v) : '');

function bandsPlugin(periods, toZero) {
  return {
    id: 'bands',
    beforeDatasetsDraw(chart) {
      const { ctx, chartArea, scales } = chart;
      const yb = toZero ? scales.y.getPixelForValue(0) : chartArea.bottom;
      ctx.save();
      ctx.fillStyle = BAND;
      periods.forEach(p => {
        const x0 = scales.x.getPixelForValue(p[0]);
        const x1 = scales.x.getPixelForValue(p[1]);
        ctx.fillRect(x0, chartArea.top, x1 - x0, yb - chartArea.top);
      });
      ctx.restore();
    }
  };
}

function mealsPlugin(times, levels, names, colors, sides) {
  return {
    id: 'meals',
    beforeDatasetsDraw(chart) {
      const { ctx, scales } = chart;
      ctx.save();
      ctx.strokeStyle = '#a8a8a8';
      ctx.lineWidth = 1.5;
      ctx.setLineDash([3, 2]);
      times.forEach((t, i) => {
        const x = scales.x.getPixelForValue(t);
        ctx.beginPath();
        ctx.moveTo(x, scales.y.getPixelForValue(levels[i]) + 3);
        ctx.lineTo(x, scales.y.getPixelForValue(0));
        ctx.stroke();
      });
      ctx.restore();
    },
    afterDatasetsDraw(chart) {
      const { ctx, scales } = chart;
      ctx.save();
      ctx.font = '8.5px ' + FONT;
      ctx.textBaseline = 'middle';
      times.forEach((t, i) => {
        const x = scales.x.getPixelForValue(t);
        const y = scales.y.getPixelForValue(levels[i]);
        ctx.fillStyle = colors[i];
        ctx.beginPath();
        ctx.arc(x, y, 2.4, 0, Math.PI * 2);
        ctx.fill();
        ctx.fillStyle = '#222';
        ctx.textAlign = sides[i] === 'left' ? 'right' : 'left';
        const tx = sides[i] === 'left' ? x - 5 : x + 5;
        names[i].forEach((line, k) => ctx.fillText(line, tx, y + k * 10.4));
      });
      ctx.restore();
    }
  };
}

function periodLabelsPlugin(periods, names, levels, dashLen) {
  return {
    id: 'periodLabels',
    afterDatasetsDraw(chart) {
      const { ctx, scales } = chart;
      ctx.save();
      ctx.font = '11px ' + FONT;
      ctx.fillStyle = INK; ctx.strokeStyle = INK; ctx.lineWidth = 1.2;
      ctx.textBaseline = 'middle';
      periods.forEach((p, i) => {
        const y = scales.y.getPixelForValue(levels[i]);
        if (i === 0) {
          const xe = scales.x.getPixelForValue((p[0] + p[1]) / 2);
          ctx.beginPath(); ctx.moveTo(xe - dashLen[i], y); ctx.lineTo(xe, y); ctx.stroke();
          ctx.textAlign = 'right';
          ctx.fillText(names[i], xe - dashLen[i] - 5, y);
        } else {
          const xs = scales.x.getPixelForValue(p[1] - p[0] > 1 ? (p[0] + p[1]) / 2 : p[1]);
          ctx.beginPath(); ctx.moveTo(xs, y); ctx.lineTo(xs + dashLen[i], y); ctx.stroke();
          ctx.textAlign = 'left';
          ctx.fillText(names[i], xs + dashLen[i] + 5, y);
        }
      });
      ctx.restore();
    }
  };
}

function heartTitlesPlugin(col) {
  return {
    id: 'heartTitles',
    afterDraw(chart) {
      const { ctx, chartArea, scales } = chart;
      ctx.save();
      ctx.strokeStyle = INK; ctx.lineWidth = 1.3;
      ctx.beginPath();
      ctx.moveTo(chartArea.right, scales.y1.getPixelForValue(0));
      ctx.lineTo(chartArea.right, scales.y1.getPixelForValue(0.325));
      ctx.stroke();
      ctx.fillStyle = INK;
      ctx.font = '12px ' + FONT;
      ctx.textAlign = 'center'; ctx.textBaseline = 'middle';
      ctx.save();
      ctx.translate(col.tx, scales.y.getPixelForValue(128));
      ctx.rotate(-Math.PI / 2);
      ctx.fillText('HR (bpm)', 0, 0);
      ctx.restore();
      ctx.translate(chartArea.right + 33, scales.y1.getPixelForValue(0.15));
      ctx.rotate(-Math.PI / 2);
      ctx.fillText('HRV (ms⁻¹)', 0, 0);
      ctx.restore();
    }
  };
}

function baseOptions(col, row, rightExtra, titleText) {
  return {
    responsive: false, animation: false, events: [],
    layout: { padding: { left: 0, top: row.padTop, bottom: 0, right: col.w - col.yw - col.pw - rightExtra } },
    plugins: {
      legend: { display: false }, tooltip: { enabled: false },
      title: titleText ? { display: true, text: titleText, fullSize: false, color: INK,
        font: { size: 12, weight: 'normal' }, padding: { top: row.tpTop, bottom: row.tpBot } } : { display: false }
    },
    elements: { line: { borderJoinStyle: 'round' } }
  };
}

// ---------- row A ----------
[[daysID05, meanID05], [daysID12, meanID12], [daysID17, meanID17]].forEach((set, ci) => {
  const col = COLS[ci], row = ROWS.A;
  const ds = set[0].map((day, k) => ({
    data: dayHours.map((h, i) => [h, day[i]]),
    borderColor: faintColors[k], borderWidth: 1.4, pointRadius: 0, tension: 0
  }));
  ds.push({ data: set[1], borderColor: '#000', borderWidth: 2, pointRadius: 0, tension: 0 });
  const opt = baseOptions(col, row, 0, panelTitlesA[ci]);
  opt.scales = { x: xScale(row), y: yScale(col, 0, 10, glucoseTicks, fmtFive, 'Glucose (mmol/L)') };
  new Chart(makeCanvas(col, row), { type: 'line', data: { datasets: ds }, options: opt });
});

// ---------- row B ----------
[
  [glucoseID14, periodsID14, mealTimesID14, mealLevelsID14, mealNamesID14, 'ID14'],
  [glucoseID06, periodsID06, mealTimesID06, mealLevelsID06, mealNamesID06, 'ID06'],
  [glucoseID23, periodsID23, mealTimesID23, mealLevelsID23, mealNamesID23, 'ID23']
].forEach((set, ci) => {
  const col = COLS[ci], row = ROWS.B;
  const opt = baseOptions(col, row, 0, panelTitlesB[ci]);
  opt.scales = { x: xScale(row), y: yScale(col, 0, 11, glucoseTicks, fmtFive, 'Glucose (mmol/L)') };
  new Chart(makeCanvas(col, row), {
    type: 'line',
    data: { datasets: [{ data: set[0], borderColor: '#3577b7', borderWidth: 2, pointRadius: 0, cubicInterpolationMode: 'monotone' }] },
    options: opt,
    plugins: [bandsPlugin(set[1], true), mealsPlugin(set[2], set[3], set[4], mealColors[set[5]], mealSides[set[5]])]
  });
});

// ---------- row C ----------
[
  [activityID14, periodsID14, periodNamesID14, [4800, 4150], [11, 11]],
  [activityID06, periodsID06, [], [], []],
  [activityID23, periodsID23, periodNamesID23, [4800, 4130], [12, 15]]
].forEach((set, ci) => {
  const col = COLS[ci], row = ROWS.C;
  const opt = baseOptions(col, row, 0, null);
  opt.scales = { x: xScale(row), y: yScale(col, -330, 5000, activityTicks, fmtK, 'Activity counts') };
  new Chart(makeCanvas(col, row), {
    type: 'line',
    data: { datasets: [{ data: set[0], borderColor: 'rgba(110,180,80,0.35)', borderWidth: 1.6,
      pointRadius: 1.5, pointBorderWidth: 0, pointBackgroundColor: '#64ad4a', spanGaps: false, tension: 0 }] },
    options: opt,
    plugins: [bandsPlugin(set[1], true), periodLabelsPlugin(set[1], set[2], set[3], set[4])]
  });
});

// ---------- row D ----------
[[hrID14, hrvID14, periodsID14], [hrID06, hrvID06, periodsID06], [hrID23, hrvID23, periodsID23]].forEach((set, ci) => {
  const col = COLS[ci], row = ROWS.D;
  const opt = baseOptions(col, row, 30, null);
  opt.scales = {
    x: xScale(row, 'Time (hours)'),
    y: yScale(col, 0, 186.5, hrTicks, fmtFifty, null),
    y1: {
      type: 'linear', position: 'right', min: 0, max: 1.097,
      afterBuildTicks: s => { s.ticks = hrvTicks.map(v => ({ value: v })); },
      afterFit: s => { s.width = 30; },
      grid: { drawOnChartArea: false, drawTicks: true, tickLength: 4, color: INK, lineWidth: 1 },
      border: { display: false },
      ticks: { padding: 1, autoSkip: false, color: INK, font: { size: 12 }, callback: v => v.toFixed(1) }
    }
  };
  new Chart(makeCanvas(col, row), {
    type: 'line',
    data: { datasets: [
      { data: set[0], yAxisID: 'y', borderColor: 'rgba(220,95,90,0.35)', borderWidth: 1.6,
        pointRadius: 1.5, pointBorderWidth: 0, pointBackgroundColor: '#d9534f', spanGaps: false, tension: 0 },
      { data: set[1], yAxisID: 'y1', borderColor: 'rgba(165,135,210,0.4)', borderWidth: 1.6,
        pointRadius: 1.5, pointBorderWidth: 0, pointBackgroundColor: '#a585d2', spanGaps: false, tension: 0 }
    ] },
    options: opt,
    plugins: [bandsPlugin(set[2], false), heartTitlesPlugin(col)]
  });
});
</script>
</body>
</html>
